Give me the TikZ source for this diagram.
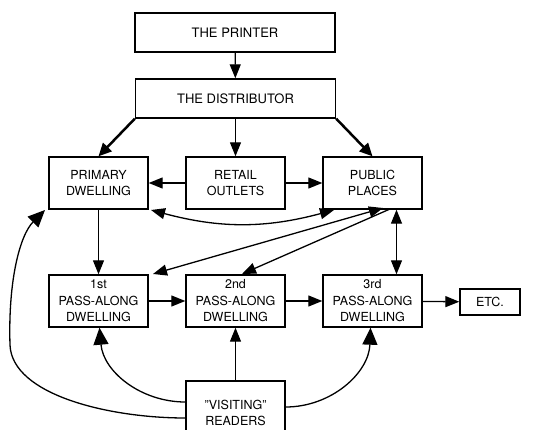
\documentclass[tikz,border=0pt]{standalone}
\usepackage{fontspec}
\setmainfont{TeX Gyre Heros}
\usetikzlibrary{arrows.meta}
\begin{document}
\begin{tikzpicture}[
  box/.style={draw, line width=1.4pt, inner sep=0pt, align=center,
    font=\fontsize{12.5}{16.5}\selectfont, minimum width=99pt, minimum height=52pt},
  wbox/.style={box, minimum width=200pt, minimum height=39pt, font=\fontsize{13}{16}\selectfont},
  arr/.style={line width=1.3pt, -{Triangle[length=14pt,width=11pt]}},
  darr/.style={line width=1.3pt, {Triangle[length=14pt,width=11pt]}-{Triangle[length=14pt,width=11pt]}},
  tarr/.style={line width=2.5pt, -{Triangle[length=13pt,width=12pt]}},
  carr/.style={line width=1.3pt, -{Triangle[length=17pt,width=15pt]}},
]
\useasboundingbox (0,0) rectangle (557pt,-430pt);
\begin{scope}[x=1pt,y=1pt]
\node[wbox] (printer) at (235,-32.5) {THE PRINTER};
\node[wbox] (dist) at (235.5,-98.5) {THE DISTRIBUTOR};
\node[box] (primary) at (98.5,-183) {PRIMARY\\DWELLING};
\node[box] (retail) at (235.5,-183) {RETAIL\\OUTLETS};
\node[box] (public) at (372.5,-183) {PUBLIC\\PLACES};
\node[box] (first) at (98.5,-301) {1st\\PASS-ALONG\\DWELLING};
\node[box] (second) at (235.5,-301) {2nd\\PASS-ALONG\\DWELLING};
\node[box] (third) at (372.5,-301) {3rd\\PASS-ALONG\\DWELLING};
\node[box, minimum width=60pt, minimum height=26pt] (etc) at (490,-302) {ETC.};
\node[box, minimum height=64pt] (visit) at (235.5,-413) {"VISITING"\\READERS};

\coordinate (pubA) at (383,-208);
\coordinate (pubB) at (390,-209);
\coordinate (pubC) at (334,-210);
\coordinate (priA) at (151,-210);
\coordinate (firstA) at (153,-274);
\coordinate (secondA) at (242,-274);
\coordinate (farL) at (10,-345);
\coordinate (priB) at (45,-210);

\draw[arr] (printer) -- (dist);
\draw[tarr] (dist.south west) -- (primary.north);
\draw[tarr] (dist.south east) -- (public.north);
\draw[arr] (dist) -- (retail);
\draw[arr] (retail.west) -- (primary.east);
\draw[arr] (retail.east) -- (public.west);
\draw[arr] (primary.south) -- (first.north);
\draw[darr] (priA) to[bend right=15] (pubC);
\draw[darr] (firstA) -- (pubA);
\draw[arr] (pubB) -- (secondA);
\draw[darr] ([xshift=24pt]public.south) -- ([xshift=24pt]third.north);
\draw[arr] (first) -- (second);
\draw[arr] (second) -- (third);
\draw[arr] (third) -- (etc);
\draw[arr] (visit) -- (second);
\draw[carr] ([yshift=11pt]visit.west) to[out=180,in=-85] ([xshift=1pt]first.south);
\draw[carr] ([yshift=-5pt]visit.west) .. controls +(-76,0) and (12,-395) .. (farL)
   .. controls (8,-280) and (20,-235) .. (priB);
\draw[carr] ([yshift=6pt]visit.east) to[out=0,in=-92] ([xshift=-2pt]third.south);
\end{scope}
\end{tikzpicture}
\end{document}
